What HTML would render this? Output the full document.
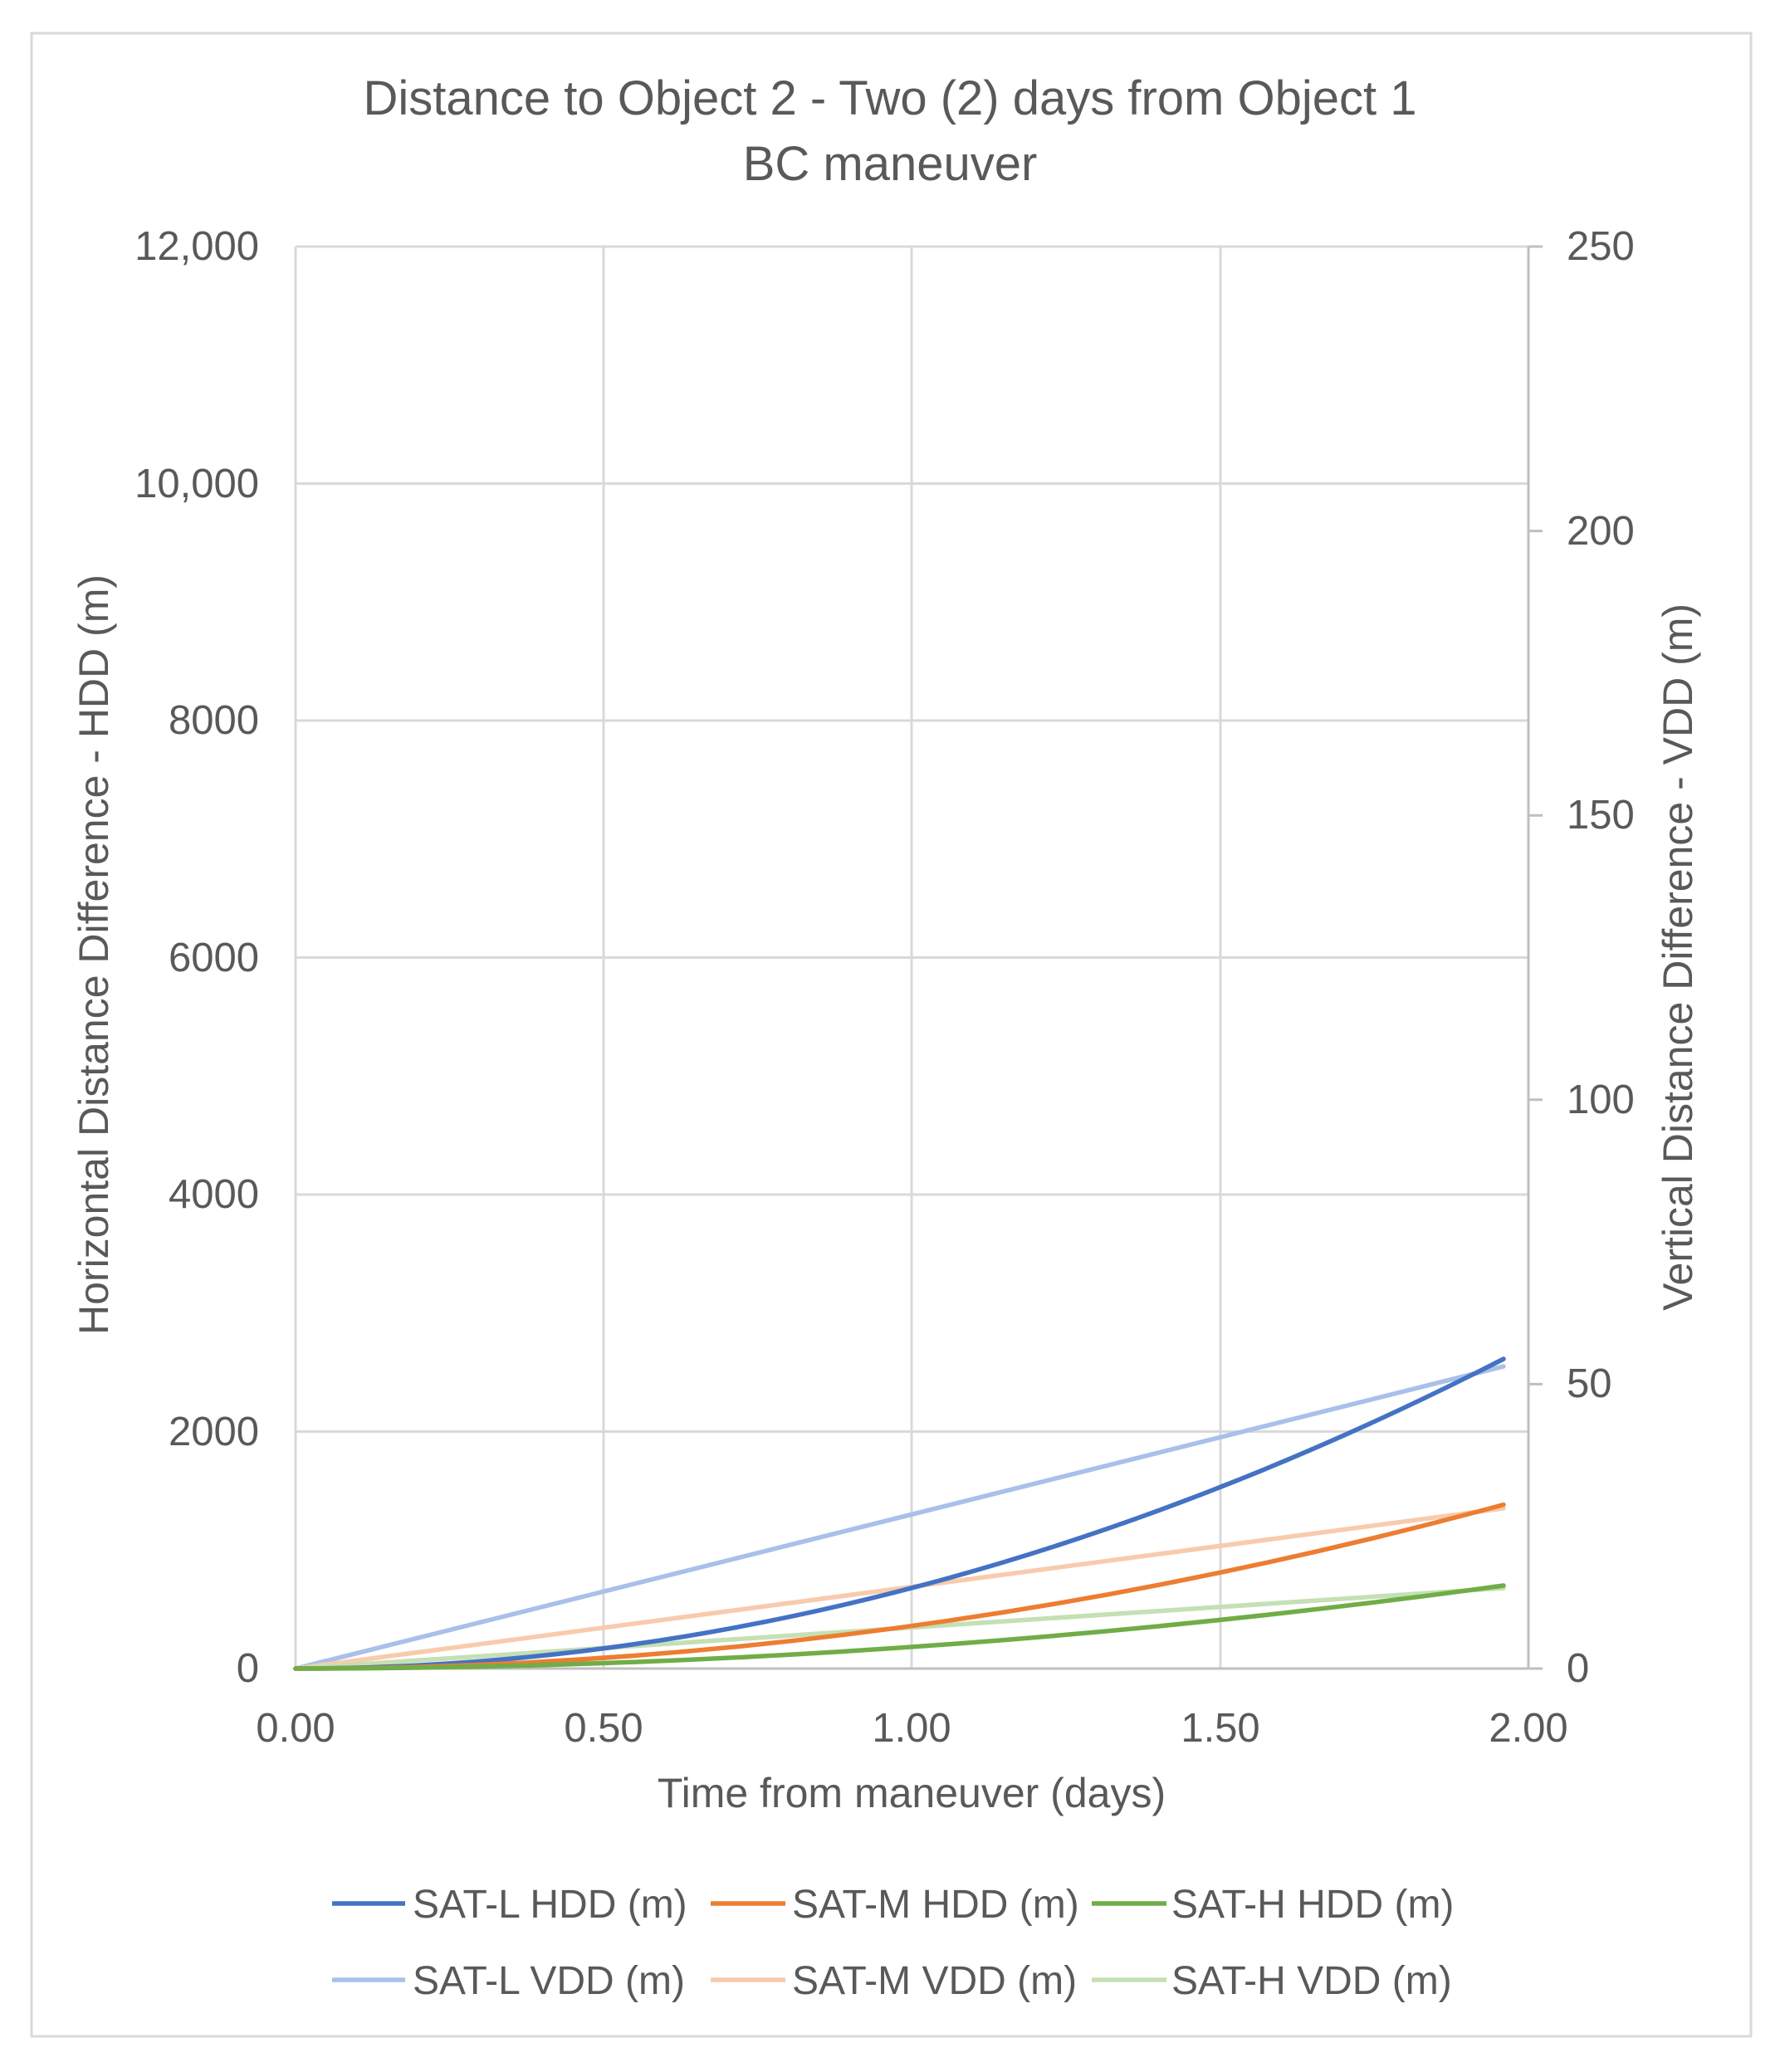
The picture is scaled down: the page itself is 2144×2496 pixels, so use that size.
<!DOCTYPE html>
<html><head><meta charset="utf-8"><style>
html,body{margin:0;padding:0;background:#fff;}
svg{display:block;font-family:"Liberation Sans",sans-serif;}
</style></head><body>
<svg width="2144" height="2496" viewBox="0 0 2144 2496" xmlns="http://www.w3.org/2000/svg">
<rect x="0" y="0" width="2144" height="2496" fill="#fff"/>
<rect x="38" y="40" width="2071" height="2413" fill="none" stroke="#d9d9d9" stroke-width="3"/>
<g fill="#595959" font-size="58" text-anchor="middle">
<text x="1072" y="138">Distance to Object 2 - Two (2) days from Object 1</text>
<text x="1072" y="217">BC maneuver</text>
</g>
<g stroke="#d9d9d9" stroke-width="3">
<line x1="356" y1="297" x2="1841" y2="297"/>
<line x1="356" y1="582.5" x2="1841" y2="582.5"/>
<line x1="356" y1="868" x2="1841" y2="868"/>
<line x1="356" y1="1153.5" x2="1841" y2="1153.5"/>
<line x1="356" y1="1439" x2="1841" y2="1439"/>
<line x1="356" y1="1724.5" x2="1841" y2="1724.5"/>
<line x1="356" y1="297" x2="356" y2="2010"/>
<line x1="727" y1="297" x2="727" y2="2010"/>
<line x1="1098" y1="297" x2="1098" y2="2010"/>
<line x1="1470" y1="297" x2="1470" y2="2010"/>
</g>
<g stroke="#bfbfbf" stroke-width="3">
<line x1="356" y1="2010" x2="1841" y2="2010"/>
<line x1="1841" y1="297" x2="1841" y2="2010"/>
<line x1="1841" y1="297" x2="1858" y2="297"/>
<line x1="1841" y1="639.6" x2="1858" y2="639.6"/>
<line x1="1841" y1="982.2" x2="1858" y2="982.2"/>
<line x1="1841" y1="1324.8" x2="1858" y2="1324.8"/>
<line x1="1841" y1="1667.4" x2="1858" y2="1667.4"/>
<line x1="1841" y1="2010" x2="1858" y2="2010"/>
</g>
<g fill="#595959" font-size="49" text-anchor="end">
<text x="312" y="313">12,000</text>
<text x="312" y="599">10,000</text>
<text x="312" y="884">8000</text>
<text x="312" y="1170">6000</text>
<text x="312" y="1455">4000</text>
<text x="312" y="1741">2000</text>
<text x="312" y="2026">0</text>
</g>
<g fill="#595959" font-size="49" text-anchor="start">
<text x="1887" y="313">250</text>
<text x="1887" y="656">200</text>
<text x="1887" y="998">150</text>
<text x="1887" y="1341">100</text>
<text x="1887" y="1683">50</text>
<text x="1887" y="2026">0</text>
</g>
<g fill="#595959" font-size="49" text-anchor="middle">
<text x="356" y="2098">0.00</text>
<text x="727" y="2098">0.50</text>
<text x="1098" y="2098">1.00</text>
<text x="1470" y="2098">1.50</text>
<text x="1841" y="2098">2.00</text>
<text x="1098" y="2177" font-size="50">Time from maneuver (days)</text>
<text transform="translate(130,1150) rotate(-90)" font-size="50">Horizontal Distance Difference - HDD (m)</text>
<text transform="translate(2038,1153) rotate(-90)" font-size="50">Vertical Distance Difference - VDD (m)</text>
</g>
<g fill="none" stroke-width="5.5" stroke-linecap="round">
<line x1="356" y1="2010" x2="1811" y2="1646" stroke="#a9c0e8"/>
<line x1="356" y1="2010" x2="1811" y2="1817" stroke="#f8cbad"/>
<line x1="356" y1="2010" x2="1811" y2="1913" stroke="#c5e0b4"/>
<path d="M356 2010 Q1083.6 2010 1811 1637" stroke="#4472c4"/>
<path d="M356 2010 Q1083.6 2010 1811 1812.6" stroke="#ed7d31"/>
<path d="M356 2010 Q1083.6 2010 1811 1910" stroke="#70ad47"/>
</g>
<g stroke-width="5.5">
<line x1="400" y1="2293" x2="488" y2="2293" stroke="#4472c4"/>
<line x1="856" y1="2293" x2="946" y2="2293" stroke="#ed7d31"/>
<line x1="1315" y1="2293" x2="1405" y2="2293" stroke="#70ad47"/>
<line x1="400" y1="2385" x2="488" y2="2385" stroke="#a9c0e8"/>
<line x1="856" y1="2385" x2="946" y2="2385" stroke="#f8cbad"/>
<line x1="1315" y1="2385" x2="1405" y2="2385" stroke="#c5e0b4"/>
</g>
<g fill="#595959" font-size="48">
<text x="497" y="2310">SAT-L HDD (m)</text>
<text x="954" y="2310">SAT-M HDD (m)</text>
<text x="1411" y="2310">SAT-H HDD (m)</text>
<text x="497" y="2402">SAT-L VDD (m)</text>
<text x="954" y="2402">SAT-M VDD (m)</text>
<text x="1411" y="2402">SAT-H VDD (m)</text>
</g>
</svg>
</body></html>
